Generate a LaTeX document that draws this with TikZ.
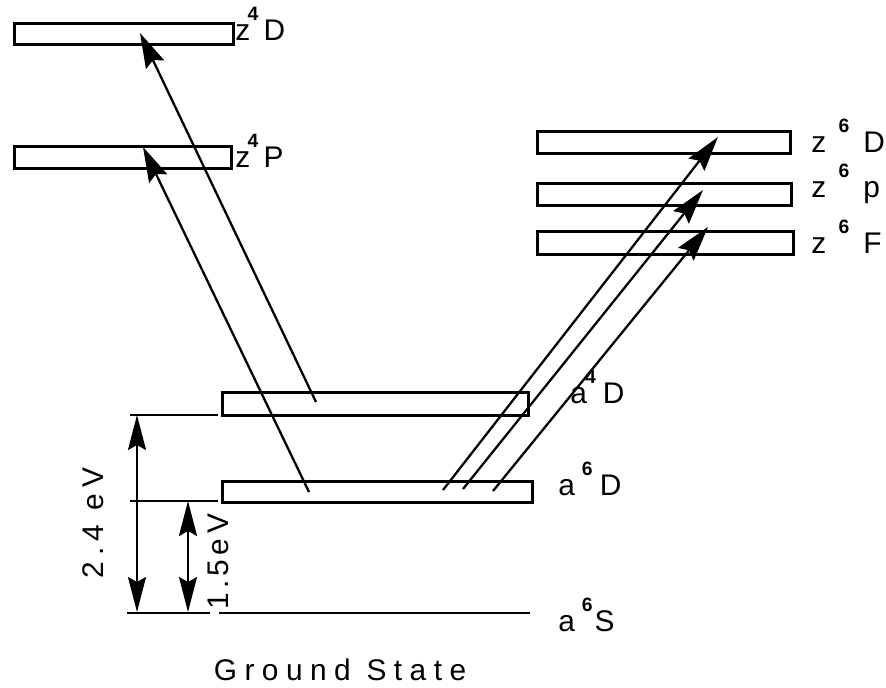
\documentclass[tikz,border=0pt]{standalone}
\usepackage{fontspec}
\setmainfont{Liberation Sans}
\usetikzlibrary{arrows.meta}
\newcommand{\upidx}[1]{\raisebox{11pt}{\fontsize{11}{11}\selectfont\bfseries #1}}
\newcommand{\wideterm}[3]{#1\hspace{7pt}\upidx{#2}\hspace{8pt}#3}

\begin{document}
\begin{tikzpicture}[x=0.02cm, y=-0.02cm,
    lvlbox/.style 2 args={rectangle, draw, line width=1.6pt, anchor=north west, inner sep=0pt,
      minimum width=#1*0.02cm, minimum height=#2*0.02cm},
    lvlline/.style={line width=1.6pt},
    trans/.style={-{Stealth[length=7mm, width=4mm, inset=1mm]}, line width=1.3pt},
    gap/.style={{Stealth[length=7mm, width=3.6mm, inset=1mm]}-{Stealth[length=7mm, width=3.6mm, inset=1mm]}, line width=1.3pt},
    lbl/.style={font=\fontsize{17}{20}\selectfont, inner sep=0pt, anchor=base west}
  ]
    \useasboundingbox (0,0) rectangle (886,687);
    % levels
    \node[lvlbox={219}{21}]  (z4D) at (13,22) {};
    \node[lvlbox={217}{22}]  (z4P) at (13,145) {};
    \node[lvlbox={253}{22}]  (z6D) at (536,130) {};
    \node[lvlbox={254}{22}]  (z6P) at (536,182) {};
    \node[lvlbox={256}{23}]  (z6F) at (536,230) {};
    \node[lvlbox={306}{23}]  (a4D) at (221,391) {};
    \node[lvlbox={310}{21}]  (a6D) at (221,480) {};
    \coordinate (a6SL) at (219,613);
    \coordinate (a6SR) at (530,613);
    \draw[lvlline] (a6SL) -- (a6SR);
    % reference ticks
    \coordinate (tkA1) at (130,415); \coordinate (tkA2) at (218,415);
    \coordinate (tkB1) at (130,501); \coordinate (tkB2) at (218,501);
    \coordinate (tkC1) at (127,613); \coordinate (tkC2) at (210,613);
    \draw[lvlline] (tkA1) -- (tkA2);
    \draw[lvlline] (tkB1) -- (tkB2);
    \draw[lvlline] (tkC1) -- (tkC2);
    \coordinate (gA1) at (137,415); \coordinate (gA2) at (137,612);
    \coordinate (gB1) at (188,501); \coordinate (gB2) at (188,612);
    \draw[gap] (gA1) -- (gA2);
    \draw[gap] (gB1) -- (gB2);
    % transitions
    \coordinate (u1) at (309,492); \coordinate (v1) at (143,147);
    \coordinate (u2) at (316,402); \coordinate (v2) at (140,33);
    \coordinate (u3) at (443,490); \coordinate (v3) at (718,137);
    \coordinate (u4) at (463,489); \coordinate (v4) at (703,190);
    \coordinate (u5) at (493,491); \coordinate (v5) at (708,227);
    \draw[trans] (u1) -- (v1);
    \draw[trans] (u2) -- (v2);
    \draw[trans] (u3) -- (v3);
    \draw[trans] (u4) -- (v4);
    \draw[trans] (u5) -- (v5);
    % labels
    \node[lbl] (lz4D) at (235,40)  {z\hspace{-1.5pt}\upidx{4}\hspace{3pt}D};
    \node[lbl] (lz4P) at (235,167) {z\hspace{-1.5pt}\upidx{4}\hspace{3pt}P};
    \node[lbl] (lz6D) at (811,152) {\wideterm{z}{6}{D}};
    \node[lbl] (lz6P) at (811,197) {\wideterm{z}{6}{p}};
    \node[lbl] (lz6F) at (811,253) {\wideterm{z}{6}{F}};
    \node[lbl] (la4D) at (570,403) {a\hspace{-1pt}\upidx{4}\hspace{4pt}D};
    \node[lbl] (la6D) at (558,495) {a\hspace{4pt}\upidx{6}\hspace{4pt}D};
    \node[lbl] (la6S) at (558,631) {a\hspace{4pt}\upidx{6}\hspace{1pt}S};
    \node[lbl, rotate=90, anchor=center] (l24) at (93,523) {\addfontfeature{LetterSpace=20}2.4 eV};
    \node[lbl, rotate=90, anchor=center] (l15) at (218,562) {\addfontfeature{LetterSpace=15}1.5eV};
    \node[lbl, anchor=center] (lgs) at (340,670) {\addfontfeature{LetterSpace=25}Ground State};
  \end{tikzpicture}
\end{document}
